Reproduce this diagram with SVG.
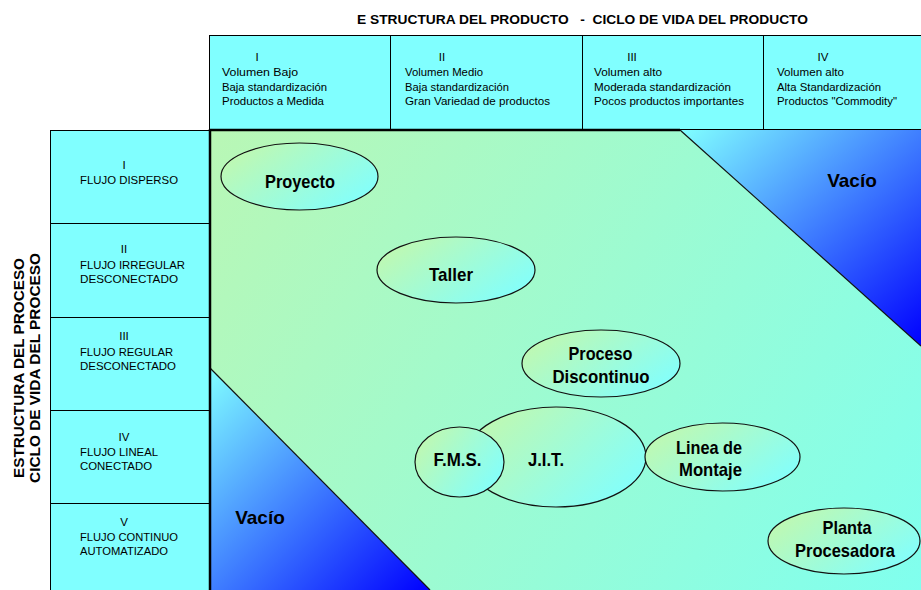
<svg xmlns="http://www.w3.org/2000/svg" width="921" height="590" viewBox="0 0 921 590">
  <defs>
    <linearGradient id="gField" gradientUnits="userSpaceOnUse" x1="210" y1="130" x2="921" y2="590">
      <stop offset="0" stop-color="#b9f7b5"/>
      <stop offset="1" stop-color="#80ffee"/>
    </linearGradient>
    <linearGradient id="gVoid" x1="0" y1="0" x2="1" y2="1">
      <stop offset="0" stop-color="#80ffff"/>
      <stop offset="1" stop-color="#0000ff"/>
    </linearGradient>
    <linearGradient id="gNode" x1="0" y1="0.2" x2="1" y2="0.8">
      <stop offset="0" stop-color="#c2f8ae"/>
      <stop offset="1" stop-color="#80ffff"/>
    </linearGradient>
    <style>
      text { font-family: "Liberation Sans Narrow", "Liberation Sans", Arial, sans-serif; fill: #000; }
      .cell { fill: #80ffff; stroke: #000; stroke-width: 1; }
      .lbl { font-size: 11.5px; }
      .num { font-size: 11.5px; text-anchor: middle; }
      .title { font-size: 13px; font-weight: bold; white-space: pre; }
      .axis { font-size: 15px; font-weight: bold; text-anchor: middle; }
      .node ellipse { fill: url(#gNode); stroke: #111; stroke-width: 1.2; }
      .node text, .void text { font-size: 19px; font-weight: bold; text-anchor: middle; }
      .void polygon { fill: url(#gVoid); }
      .edge { stroke: #111; stroke-width: 1.2; fill: none; }
    </style>
  </defs>

  <rect x="0" y="0" width="921" height="590" fill="#fff"/>

  <!-- chart title -->
  <text class="title" x="357" y="24" textLength="451" lengthAdjust="spacingAndGlyphs">E STRUCTURA DEL PRODUCTO   -  CICLO DE VIDA DEL PRODUCTO</text>

  <!-- product stages (columns) -->
  <g id="col-I">
    <rect class="cell" x="209.5" y="35.5" width="181" height="94"/>
    <text class="num" x="257" y="61">I</text>
    <text class="lbl" x="222" y="76" textLength="76" lengthAdjust="spacingAndGlyphs">Volumen Bajo</text>
    <text class="lbl" x="222" y="90.5" textLength="105" lengthAdjust="spacingAndGlyphs">Baja standardización</text>
    <text class="lbl" x="222" y="105" textLength="102" lengthAdjust="spacingAndGlyphs">Productos a Medida</text>
  </g>
  <g id="col-II">
    <rect class="cell" x="390.5" y="35.5" width="192" height="94"/>
    <text class="num" x="442" y="61">II</text>
    <text class="lbl" x="405" y="76" textLength="78" lengthAdjust="spacingAndGlyphs">Volumen Medio</text>
    <text class="lbl" x="405" y="90.5" textLength="104" lengthAdjust="spacingAndGlyphs">Baja standardización</text>
    <text class="lbl" x="405" y="105" textLength="145" lengthAdjust="spacingAndGlyphs">Gran Variedad de productos</text>
  </g>
  <g id="col-III">
    <rect class="cell" x="582.5" y="35.5" width="181" height="94"/>
    <text class="num" x="632" y="61">III</text>
    <text class="lbl" x="594" y="76" textLength="68" lengthAdjust="spacingAndGlyphs">Volumen alto</text>
    <text class="lbl" x="594" y="90.5" textLength="137" lengthAdjust="spacingAndGlyphs">Moderada standardización</text>
    <text class="lbl" x="594" y="105" textLength="150" lengthAdjust="spacingAndGlyphs">Pocos productos importantes</text>
  </g>
  <g id="col-IV">
    <rect class="cell" x="763.5" y="35.5" width="170" height="94"/>
    <text class="num" x="823" y="61">IV</text>
    <text class="lbl" x="777" y="76" textLength="67" lengthAdjust="spacingAndGlyphs">Volumen alto</text>
    <text class="lbl" x="777" y="90.5" textLength="104" lengthAdjust="spacingAndGlyphs">Alta Standardización</text>
    <text class="lbl" x="777" y="105" textLength="120" lengthAdjust="spacingAndGlyphs">Productos &quot;Commodity&quot;</text>
  </g>

  <!-- process stages (rows) -->
  <g id="row-I">
    <rect class="cell" x="50.5" y="130.5" width="159" height="93"/>
    <text class="num" x="124" y="169">I</text>
    <text class="lbl" x="80" y="184" textLength="98" lengthAdjust="spacingAndGlyphs">FLUJO DISPERSO</text>
  </g>
  <g id="row-II">
    <rect class="cell" x="50.5" y="223.5" width="159" height="94"/>
    <text class="num" x="124" y="253">II</text>
    <text class="lbl" x="80" y="268.5" textLength="105" lengthAdjust="spacingAndGlyphs">FLUJO IRREGULAR</text>
    <text class="lbl" x="80" y="282.5" textLength="98" lengthAdjust="spacingAndGlyphs">DESCONECTADO</text>
  </g>
  <g id="row-III">
    <rect class="cell" x="50.5" y="317.5" width="159" height="93"/>
    <text class="num" x="124" y="340">III</text>
    <text class="lbl" x="80" y="356" textLength="93" lengthAdjust="spacingAndGlyphs">FLUJO REGULAR</text>
    <text class="lbl" x="80" y="369.5" textLength="96" lengthAdjust="spacingAndGlyphs">DESCONECTADO</text>
  </g>
  <g id="row-IV">
    <rect class="cell" x="50.5" y="410.5" width="159" height="93"/>
    <text class="num" x="124" y="441">IV</text>
    <text class="lbl" x="80" y="456" textLength="78" lengthAdjust="spacingAndGlyphs">FLUJO LINEAL</text>
    <text class="lbl" x="80" y="470" textLength="72" lengthAdjust="spacingAndGlyphs">CONECTADO</text>
  </g>
  <g id="row-V">
    <rect class="cell" x="50.5" y="503.5" width="159" height="90"/>
    <text class="num" x="124" y="526">V</text>
    <text class="lbl" x="80" y="541" textLength="98" lengthAdjust="spacingAndGlyphs">FLUJO CONTINUO</text>
    <text class="lbl" x="80" y="555" textLength="88" lengthAdjust="spacingAndGlyphs">AUTOMATIZADO</text>
  </g>

  <!-- vertical axis caption -->
  <text class="axis" transform="translate(23.5,368) rotate(-90)" textLength="220" lengthAdjust="spacingAndGlyphs">ESTRUCTURA DEL PROCESO</text>
  <text class="axis" transform="translate(40,368) rotate(-90)" textLength="230" lengthAdjust="spacingAndGlyphs">CICLO DE VIDA DEL PROCESO</text>

  <!-- matrix field -->
  <rect x="210" y="130" width="711" height="460" fill="url(#gField)"/>

  <g id="void-top" class="void">
    <polygon points="680,130 921,130 921,346"/>
    <text x="852" y="187">Vacío</text>
  </g>
  <g id="void-bottom" class="void">
    <polygon points="210,368 430,590 210,590"/>
    <text x="260" y="524">Vacío</text>
  </g>

  <!-- field borders and diagonals -->
  <g id="borders">
    <line class="edge" x1="680" y1="130" x2="921" y2="346"/>
    <line class="edge" x1="210" y1="368" x2="430" y2="590"/>
    <line x1="209" y1="130" x2="680" y2="130" stroke="#000" stroke-width="2.5"/>
    <line x1="210" y1="129" x2="210" y2="590" stroke="#000" stroke-width="2.5"/>
  </g>

  <!-- process types -->
  <g id="node-proyecto" class="node">
    <ellipse cx="299.5" cy="176.5" rx="78.5" ry="33.5"/>
    <text x="300" y="188" textLength="70" lengthAdjust="spacingAndGlyphs">Proyecto</text>
  </g>
  <g id="node-taller" class="node">
    <ellipse cx="456" cy="270" rx="79" ry="33"/>
    <text x="451" y="281" textLength="44" lengthAdjust="spacingAndGlyphs">Taller</text>
  </g>
  <g id="node-proceso-discontinuo" class="node">
    <ellipse cx="601" cy="363.5" rx="79" ry="33.5"/>
    <text x="600.5" y="360" textLength="64" lengthAdjust="spacingAndGlyphs">Proceso</text>
    <text x="601" y="383" textLength="97" lengthAdjust="spacingAndGlyphs">Discontinuo</text>
  </g>
  <g id="node-jit" class="node">
    <ellipse cx="556" cy="457" rx="90" ry="50"/>
    <text x="546" y="466" textLength="36" lengthAdjust="spacingAndGlyphs">J.I.T.</text>
  </g>
  <g id="node-fms" class="node">
    <ellipse cx="459.5" cy="462" rx="44.5" ry="35"/>
    <text x="457.5" y="466" textLength="48" lengthAdjust="spacingAndGlyphs">F.M.S.</text>
  </g>
  <g id="node-linea-montaje" class="node">
    <ellipse cx="722.5" cy="457" rx="77.5" ry="34"/>
    <text x="709" y="454" textLength="66" lengthAdjust="spacingAndGlyphs">Linea de</text>
    <text x="710.5" y="476" textLength="63" lengthAdjust="spacingAndGlyphs">Montaje</text>
  </g>
  <g id="node-planta-procesadora" class="node">
    <ellipse cx="844" cy="541" rx="76" ry="33"/>
    <text x="847" y="534" textLength="49" lengthAdjust="spacingAndGlyphs">Planta</text>
    <text x="845" y="557" textLength="100" lengthAdjust="spacingAndGlyphs">Procesadora</text>
  </g>
</svg>
